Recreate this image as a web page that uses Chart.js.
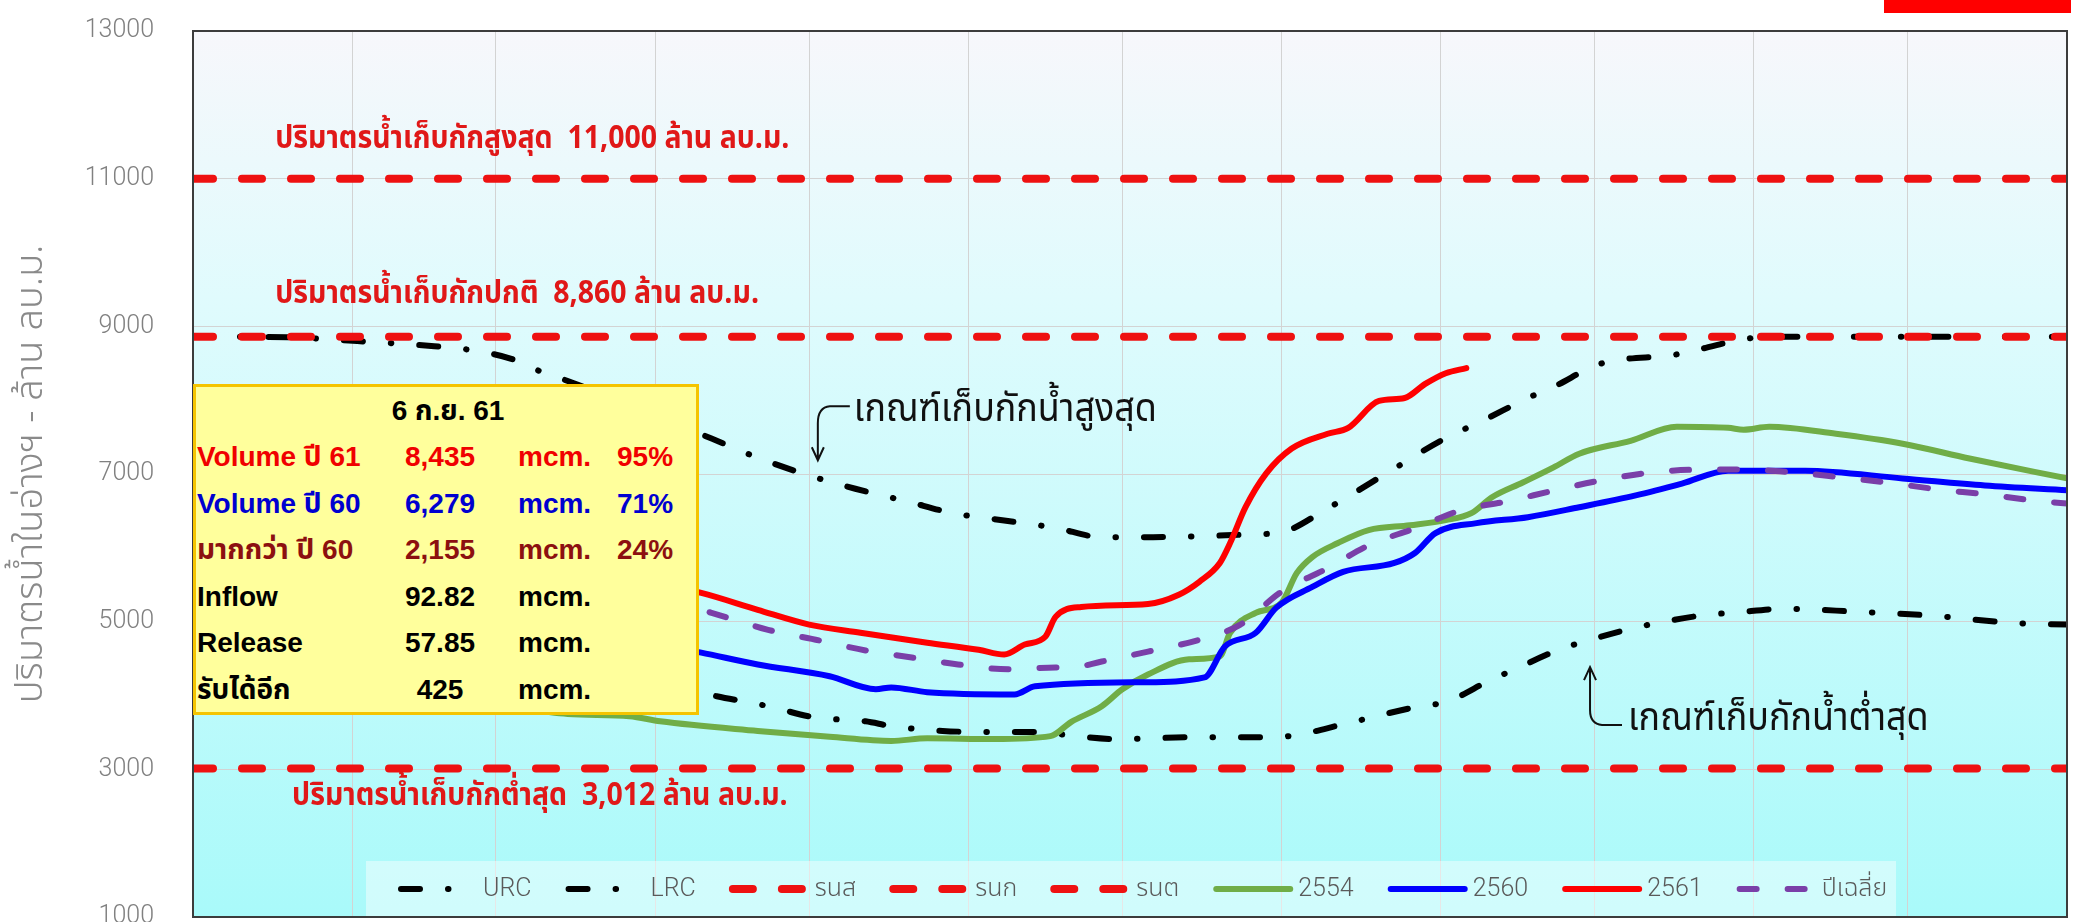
<!DOCTYPE html>
<html>
<head>
<meta charset="utf-8">
<script src="https://cdn.jsdelivr.net/npm/chart.js@4.4.1/dist/chart.umd.min.js"></script>
<style>
  html, body { margin: 0; padding: 0; background: #fff; overflow: hidden; }
  #wrap { position: relative; width: 2089px; height: 922px; overflow: hidden; }
  #chart { position: absolute; left: 0; top: 0; }
  #badge { position: absolute; left: 1884px; top: 0; width: 187px; height: 13px; background: #ff0000; }
  #info {
    position: absolute; left: 193px; top: 384px; width: 506px; height: 331px;
    box-sizing: border-box; background: #ffff9c; border: 3px solid #f5c400;
    font: bold 28px "Liberation Sans", Arial, "Noto Sans Thai", Loma, Garuda, sans-serif;
  }
  #info .row { position: absolute; left: 0; width: 100%; height: 46px; line-height: 46px; }
  #info .row span { position: absolute; top: 0; white-space: nowrap; }
  #info .c1 { left: 1px; }
  #info .c2 { left: 194px; width: 100px; text-align: center; }
  #info .c3 { left: 322px; }
  #info .c4 { left: 421px; }
  #info .head { left: 0; width: 500px; text-align: center; padding-left: 4px; box-sizing: border-box; }
</style>
</head>
<body>
<div id="wrap">
  <canvas id="chart" width="2089" height="960"></canvas>
  <div id="badge"></div>
  <div id="info"></div>
</div>
<script>
// Reservoir storage vs rule curves (days from 1 Jan, million m3)

const MONTH_STARTS = [0, 31, 59, 90, 120, 151, 181, 212, 243, 273, 304, 334, 365];

const URC_DAYS = [0, 19, 32, 47, 54, 62, 68, 73, 101, 110, 120, 129, 139, 148, 158, 168, 177, 187, 197, 207, 212, 221, 234, 243, 252, 260, 265, 274, 289, 302, 308, 365];
const URC_VALS = [8860, 8850, 8800, 8730, 8680, 8560, 8380, 8260, 7480, 7220, 6980, 6800, 6630, 6470, 6370, 6270, 6145, 6145, 6160, 6185, 6210, 6535, 7075, 7450, 7750, 8030, 8180, 8490, 8620, 8825, 8860, 8860];

const LRC_DAYS = [0, 31, 59, 90, 102, 112, 121, 131, 136, 146, 156, 165, 170, 180, 195, 210, 215, 224, 239, 244, 253, 257, 266, 271, 281, 295, 300, 310, 324, 339, 354, 365];
const LRC_VALS = [4950, 4780, 4560, 4180, 3990, 3855, 3705, 3650, 3585, 3520, 3505, 3505, 3465, 3410, 3435, 3435, 3465, 3610, 3855, 3910, 4220, 4340, 4620, 4730, 4920, 5095, 5120, 5175, 5135, 5080, 4985, 4960];

const LINE_DAYS = [0, 365];
const RNS_VALS = [11000, 11000];
const RNK_VALS = [8860, 8860];
const RNT_VALS = [3012, 3012];

const Y2554_DAYS = [0, 31, 59, 73, 85, 91, 110, 124, 136, 143, 156, 167, 171, 177, 181, 186, 194, 200, 202, 207, 212, 215, 218, 223, 229, 237, 244, 249, 253, 259, 265, 270, 280, 289, 299, 302, 307, 320, 333, 346, 365];
const Y2554_VALS = [4350, 4100, 3880, 3750, 3720, 3650, 3520, 3440, 3385, 3420, 3410, 3450, 3640, 3855, 4085, 4285, 4490, 4530, 4850, 5120, 5255, 5660, 5875, 6065, 6240, 6305, 6375, 6470, 6685, 6885, 7090, 7275, 7450, 7640, 7625, 7600, 7640, 7545, 7410, 7210, 6940];

const Y2560_DAYS = [0, 31, 59, 90, 99, 110, 124, 133, 136, 143, 160, 164, 185, 197, 201, 207, 211, 218, 224, 234, 238, 242, 250, 260, 270, 281, 290, 299, 314, 333, 349, 365];
const Y2560_VALS = [6000, 5600, 5150, 4700, 4580, 4420, 4260, 4085, 4110, 4045, 4015, 4125, 4180, 4245, 4665, 4850, 5190, 5470, 5675, 5795, 5930, 6200, 6335, 6415, 6550, 6710, 6870, 7045, 7045, 6940, 6845, 6780];

const Y2561_DAYS = [0, 31, 59, 90, 99, 110, 120, 130, 143, 153, 158, 162, 166, 168, 173, 186, 192, 196, 200, 202, 205, 209, 214, 221, 225, 231, 236, 240, 244, 248];
const Y2561_VALS = [6780, 6400, 5950, 5520, 5390, 5160, 4960, 4850, 4715, 4620, 4555, 4690, 4795, 5065, 5200, 5240, 5365, 5540, 5795, 6065, 6550, 7005, 7345, 7545, 7625, 7990, 8030, 8220, 8365, 8435];

const AVG_DAYS = [0, 31, 59, 90, 101, 112, 122, 131, 140, 149, 159, 168, 171, 177, 186, 196, 204, 212, 221, 229, 238, 247, 256, 265, 274, 284, 294, 302, 312, 321, 330, 340, 349, 358, 365];
const AVG_VALS = [6580, 6250, 5850, 5320, 5120, 4890, 4745, 4610, 4515, 4420, 4355, 4380, 4380, 4460, 4595, 4755, 4960, 5405, 5725, 6035, 6265, 6510, 6630, 6775, 6910, 7020, 7060, 7060, 7020, 6955, 6885, 6790, 6725, 6645, 6600];

const INFO_DATE = "6 ก.ย. 61";
const INFO_ROWS = [
  ["Volume ปี 61", "8,435", "mcm.", "95%"],
  ["Volume ปี 60", "6,279", "mcm.", "71%"],
  ["มากกว่า ปี 60", "2,155", "mcm.", "24%"],
  ["Inflow", "92.82", "mcm.", ""],
  ["Release", "57.85", "mcm.", ""],
  ["รับได้อีก", "425", "mcm.", ""],
];
const INFO_COLORS = ["#f00000", "#0000d0", "#8c1010", "#000", "#000", "#000"];

const THAI = '"Noto Sans Thai", "Noto Sans Thai UI", Loma, Garuda, "Tlwg Typo", Tahoma';
const RED_DASH = "#ee1111";

function pts(days, vals) {
  return days.map((d, i) => ({ x: d, y: vals[i] }));
}

// ===== Info box =====
function buildInfoBox() {
  const box = document.getElementById("info");
  let html = `<div class="row" style="top:1px"><span class="head">${INFO_DATE}</span></div>`;
  INFO_ROWS.forEach((r, i) => {
    const top = 47 + i * 46.5;
    html += `<div class="row" style="top:${top}px;color:${INFO_COLORS[i]}">
      <span class="c1">${r[0]}</span><span class="c2">${r[1]}</span>
      <span class="c3">${r[2]}</span><span class="c4">${r[3]}</span></div>`;
  });
  box.innerHTML = html;
}
buildInfoBox();

// ===== Plugins =====
const plotBackground = {
  id: "plotBackground",
  beforeDraw(chart) {
    const { ctx, chartArea: a } = chart;
    const g = ctx.createLinearGradient(0, a.top, 0, a.bottom);
    g.addColorStop(0, "#f7f7fb");
    g.addColorStop(0.3, "#e0fbfd");
    g.addColorStop(1, "#a9fafa");
    ctx.save();
    ctx.fillStyle = g;
    ctx.fillRect(a.left, a.top, a.right - a.left, a.bottom - a.top);
    ctx.restore();
  },
};

function squeezedText(ctx, text, x, y, font, color, sx) {
  ctx.save();
  ctx.font = font;
  ctx.fillStyle = color;
  ctx.textBaseline = "middle";
  ctx.translate(x, y);
  ctx.scale(sx, 1);
  ctx.fillText(text, 0, 0);
  ctx.restore();
}

const annotations = {
  id: "annotations",
  afterDatasetsDraw(chart) {
    const { ctx, scales: { x, y } } = chart;
    const redFont = `bold 32px ${THAI}, "Liberation Sans", sans-serif`;
    squeezedText(ctx, "ปริมาตรน้ำเก็บกักสูงสุด  11,000 ล้าน ลบ.ม.", x.getPixelForValue(16), y.getPixelForValue(11000) - 37, redFont, "#e01818", 0.89);
    squeezedText(ctx, "ปริมาตรน้ำเก็บกักปกติ  8,860 ล้าน ลบ.ม.", x.getPixelForValue(16), y.getPixelForValue(8860) - 40, redFont, "#e01818", 0.89);
    squeezedText(ctx, "ปริมาตรน้ำเก็บกักต่ำสุด  3,012 ล้าน ลบ.ม.", x.getPixelForValue(19.3), y.getPixelForValue(3012) + 30, redFont, "#e01818", 0.89);

    const blackFont = `39px ${THAI}, "Liberation Sans", sans-serif`;
    // upper rule curve label + arrow
    const ux = x.getPixelForValue(121.7), uy = y.getPixelForValue(7850);
    squeezedText(ctx, "เกณฑ์เก็บกักน้ำสูงสุด", ux + 36, uy + 2, blackFont, "#111", 0.92);
    // lower rule curve label + arrow
    const lx = x.getPixelForValue(272.1), ly = y.getPixelForValue(3640);
    squeezedText(ctx, "เกณฑ์เก็บกักน้ำต่ำสุด", lx + 38, ly, blackFont, "#111", 0.92);

    ctx.save();
    ctx.strokeStyle = "#111";
    ctx.lineWidth = 2;
    ctx.beginPath();
    ctx.moveTo(ux + 32, uy - 5);
    ctx.lineTo(ux + 12, uy - 5);
    ctx.quadraticCurveTo(ux, uy - 4, ux, uy + 12);
    ctx.lineTo(ux, uy + 48);
    ctx.moveTo(ux - 6, uy + 36);
    ctx.lineTo(ux, uy + 49);
    ctx.lineTo(ux + 6, uy + 36);
    ctx.stroke();

    ctx.beginPath();
    ctx.moveTo(lx + 32, ly + 3);
    ctx.lineTo(lx + 12, ly + 3);
    ctx.quadraticCurveTo(lx, ly + 2, lx, ly - 12);
    ctx.lineTo(lx, ly - 54);
    ctx.moveTo(lx - 6, ly - 42);
    ctx.lineTo(lx, ly - 55);
    ctx.lineTo(lx + 6, ly - 42);
    ctx.stroke();
    ctx.restore();
  },
};

const frameAndLegend = {
  id: "frameAndLegend",
  afterDraw(chart) {
    const { ctx, chartArea: a } = chart;
    ctx.save();
    // legend box inside plot area
    const lx0 = a.left + 173, ly0 = a.bottom - 56;
    ctx.fillStyle = "rgba(255,255,255,0.45)";
    ctx.fillRect(lx0, ly0, 1530, 56);
    const cy = ly0 + 28;
    let cx = lx0 + 31;
    ctx.font = `300 25px Roboto, ${THAI}, sans-serif`;
    ctx.textBaseline = "middle";
    chart.data.datasets.forEach((ds) => {
      ctx.beginPath();
      ctx.strokeStyle = ds.borderColor;
      ctx.lineWidth = ds.borderWidth;
      ctx.lineCap = "round";
      ctx.setLineDash(ds.borderDash || []);
      ctx.moveTo(cx + 4, cy);
      ctx.lineTo(cx + 78, cy);
      ctx.stroke();
      ctx.setLineDash([]);
      ctx.fillStyle = "#5a5a5a";
      ctx.fillText(ds.label, cx + 86, cy + 1);
      cx += 86 + ctx.measureText(ds.label).width + 33;
    });
    // plot frame
    ctx.strokeStyle = "#3c3c3c";
    ctx.lineWidth = 2;
    ctx.strokeRect(a.left, a.top, a.right - a.left, a.bottom - a.top);
    ctx.restore();
  },
};

// ===== Chart =====
const series = [
  { label: "URC", data: pts(URC_DAYS, URC_VALS), color: "#000", width: 6, dash: [19, 28, 0.5, 28] },
  { label: "LRC", data: pts(LRC_DAYS, LRC_VALS), color: "#000", width: 6, dash: [19, 28, 0.5, 28] },
  { label: "รนส", data: pts(LINE_DAYS, RNS_VALS), color: RED_DASH, width: 8, dash: [20, 29] },
  { label: "รนก", data: pts(LINE_DAYS, RNK_VALS), color: RED_DASH, width: 8, dash: [20, 29] },
  { label: "รนต", data: pts(LINE_DAYS, RNT_VALS), color: RED_DASH, width: 8, dash: [20, 29] },
  { label: "2554", data: pts(Y2554_DAYS, Y2554_VALS), color: "#70ad47", width: 6, dash: [] },
  { label: "2560", data: pts(Y2560_DAYS, Y2560_VALS), color: "#0000ff", width: 6, dash: [] },
  { label: "2561", data: pts(Y2561_DAYS, Y2561_VALS), color: "#ff0000", width: 6, dash: [] },
  { label: "ปีเฉลี่ย", data: pts(AVG_DAYS, AVG_VALS), color: "#7a3fa8", width: 6, dash: [17, 31] },
];

const datasets = series.map((s, i) => ({
  label: s.label,
  data: s.data,
  borderColor: s.color,
  borderWidth: s.width,
  borderDash: s.dash,
  borderCapStyle: "round",
  borderJoinStyle: "round",
  pointRadius: 0,
  cubicInterpolationMode: "monotone",
  fill: false,
  order: series.length - i, // later series on top, like the original
}));

new Chart(document.getElementById("chart"), {
  type: "line",
  data: { datasets },
  options: {
    responsive: false,
    animation: false,
    layout: { padding: { top: 31, right: 22, left: 0, bottom: 0 } },
    plugins: { legend: { display: false }, tooltip: { enabled: false } },
    scales: {
      x: {
        type: "linear",
        min: 0,
        max: 365,
        afterBuildTicks: (scale) => { scale.ticks = MONTH_STARTS.map((v) => ({ value: v })); },
        afterFit: (scale) => { scale.height = 43; },
        ticks: { display: false },
        grid: { color: "#d3d3d3", lineWidth: 1, drawTicks: false },
        border: { display: false },
      },
      y: {
        min: 1000,
        max: 13000,
        afterFit: (scale) => { scale.width = 193; },
        ticks: {
          stepSize: 2000,
          padding: 0,
          color: "#808080",
          font: { family: "Roboto", size: 25, weight: "300" },
          callback: (v) => String(v),
        },
        grid: { color: "#d3d3d3", lineWidth: 1, drawTicks: true, tickLength: 39, tickColor: "rgba(0,0,0,0)" },
        border: { display: false },
        title: {
          display: true,
          text: "ปริมาตรน้ำในอ่างฯ - ล้าน ลบ.ม.",
          color: "#8a8a8a",
          font: { family: THAI + ", sans-serif", size: 38, weight: "300" },
          padding: { top: 12, bottom: 0 },
        },
      },
    },
  },
  plugins: [plotBackground, annotations, frameAndLegend],
});
</script>
</body>
</html>
